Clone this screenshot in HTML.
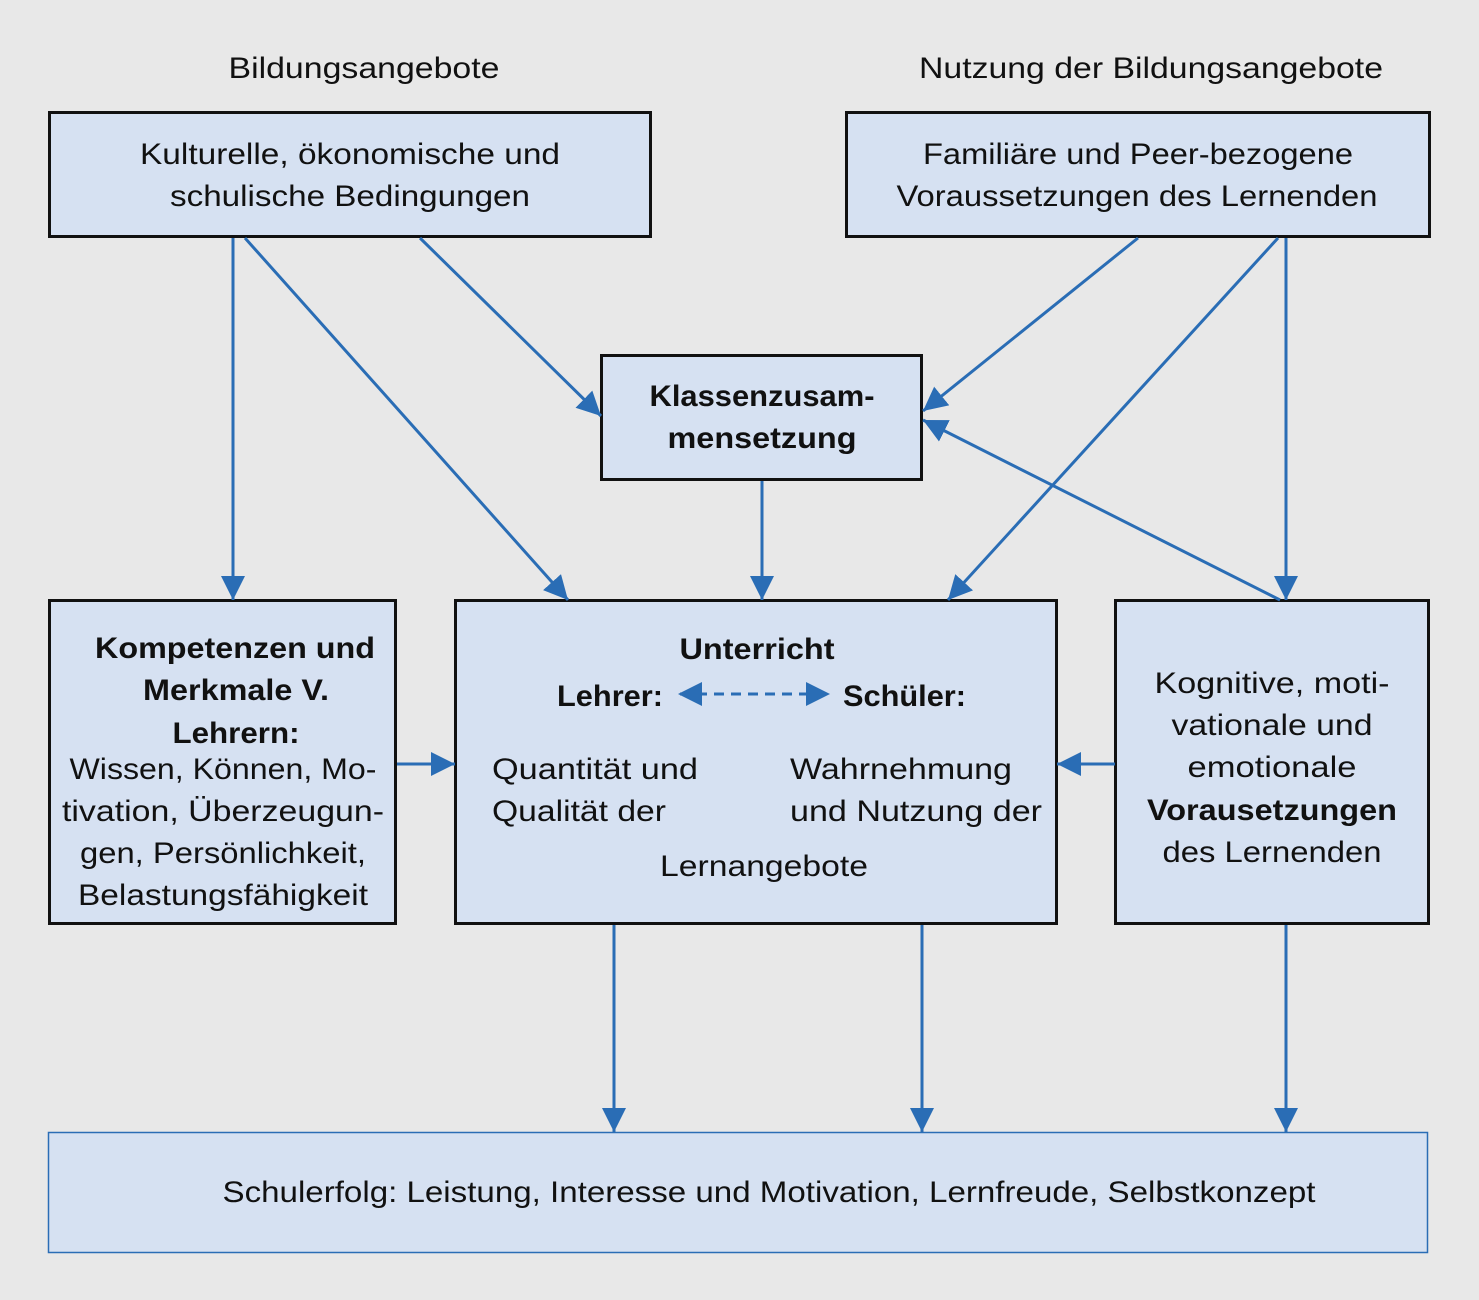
<!DOCTYPE html>
<html><head><meta charset="utf-8"><style>
html,body{margin:0;padding:0;background:#e8e8e8;}
svg{display:block}
text{font-family:"Liberation Sans",sans-serif;font-size:30px;fill:#111;}
.b{font-weight:bold}
</style></head><body>
<svg width="1479" height="1300" viewBox="0 0 1479 1300" xmlns="http://www.w3.org/2000/svg">
<defs>
<marker id="a" markerUnits="userSpaceOnUse" markerWidth="26" markerHeight="26" refX="24" refY="12" orient="auto">
<path d="M0,0 L24,12 L0,24 z" fill="#2a6db5"/></marker>
<marker id="as" markerUnits="userSpaceOnUse" markerWidth="26" markerHeight="26" refX="2" refY="12" orient="auto">
<path d="M24,0 L0,12 L24,24 z" fill="#2a6db5"/></marker>
</defs>
<rect width="1479" height="1300" fill="#e8e8e8"/>
<g fill="#d6e1f2" stroke="#111" stroke-width="3">
<rect x="49.5" y="112.5" width="601" height="124"/>
<rect x="846.5" y="112.5" width="583" height="124"/>
<rect x="601.5" y="355.5" width="320" height="124"/>
<rect x="49.5" y="600.5" width="346" height="323"/>
<rect x="455.5" y="600.5" width="601" height="323"/>
<rect x="1115.5" y="600.5" width="313" height="323"/>
</g>
<rect x="48.5" y="1132.5" width="1379" height="120" fill="#d6e1f2" stroke="#2a6db5" stroke-width="1.5"/>
<g stroke="#2a6db5" stroke-width="3" fill="none" marker-end="url(#a)">
<line x1="233" y1="238" x2="233" y2="600"/>
<line x1="245" y1="238" x2="568" y2="600"/>
<line x1="420" y1="238" x2="601" y2="416"/>
<line x1="1138" y1="238" x2="923" y2="411"/>
<line x1="1278" y1="238" x2="948" y2="600"/>
<line x1="1286" y1="238" x2="1286" y2="600"/>
<line x1="1280" y1="600" x2="923" y2="420"/>
<line x1="762" y1="481" x2="762" y2="600"/>
<line x1="397" y1="764" x2="455" y2="764"/>
<line x1="1115" y1="764" x2="1057" y2="764"/>
<line x1="614" y1="925" x2="614" y2="1132"/>
<line x1="922" y1="925" x2="922" y2="1132"/>
<line x1="1286" y1="925" x2="1286" y2="1132"/>
<line x1="680" y1="694" x2="830" y2="694" stroke-dasharray="10,7" marker-start="url(#as)"/>
</g>
<g text-anchor="middle">
<text x="364" y="78" textLength="271" lengthAdjust="spacingAndGlyphs">Bildungsangebote</text>
<text x="1151" y="78" textLength="464" lengthAdjust="spacingAndGlyphs">Nutzung der Bildungsangebote</text>
<text x="350" y="164" textLength="420" lengthAdjust="spacingAndGlyphs">Kulturelle, ökonomische und</text>
<text x="350" y="206" textLength="360" lengthAdjust="spacingAndGlyphs">schulische Bedingungen</text>
<text x="1138" y="164" textLength="430" lengthAdjust="spacingAndGlyphs">Familiäre und Peer-bezogene</text>
<text x="1137" y="206" textLength="481" lengthAdjust="spacingAndGlyphs">Voraussetzungen des Lernenden</text>
<text class="b" x="762" y="406" textLength="225" lengthAdjust="spacingAndGlyphs">Klassenzusam-</text>
<text class="b" x="762" y="448" textLength="189" lengthAdjust="spacingAndGlyphs">mensetzung</text>
<text class="b" x="235" y="658" textLength="280" lengthAdjust="spacingAndGlyphs">Kompetenzen und</text>
<text class="b" x="236" y="700" textLength="186" lengthAdjust="spacingAndGlyphs">Merkmale V.</text>
<text class="b" x="236" y="743" textLength="127" lengthAdjust="spacingAndGlyphs">Lehrern:</text>
<text x="223" y="779" textLength="307" lengthAdjust="spacingAndGlyphs">Wissen, Können, Mo-</text>
<text x="223" y="821" textLength="322" lengthAdjust="spacingAndGlyphs">tivation, Überzeugun-</text>
<text x="223" y="863" textLength="286" lengthAdjust="spacingAndGlyphs">gen, Persönlichkeit,</text>
<text x="223" y="905" textLength="290" lengthAdjust="spacingAndGlyphs">Belastungsfähigkeit</text>
<text class="b" x="757" y="659" textLength="155" lengthAdjust="spacingAndGlyphs">Unterricht</text>
<text x="764" y="876" textLength="208" lengthAdjust="spacingAndGlyphs">Lernangebote</text>
<text x="1272" y="693" textLength="235" lengthAdjust="spacingAndGlyphs">Kognitive, moti-</text>
<text x="1272" y="735" textLength="201" lengthAdjust="spacingAndGlyphs">vationale und</text>
<text x="1272" y="777" textLength="169" lengthAdjust="spacingAndGlyphs">emotionale</text>
<text class="b" x="1272" y="820" textLength="250" lengthAdjust="spacingAndGlyphs">Vorausetzungen</text>
<text x="1272" y="862" textLength="219" lengthAdjust="spacingAndGlyphs">des Lernenden</text>
<text x="769" y="1202" textLength="1093" lengthAdjust="spacingAndGlyphs">Schulerfolg: Leistung, Interesse und Motivation, Lernfreude, Selbstkonzept</text>
</g>
<g text-anchor="start">
<text class="b" x="557" y="706" textLength="106" lengthAdjust="spacingAndGlyphs">Lehrer:</text>
<text class="b" x="843" y="706" textLength="123" lengthAdjust="spacingAndGlyphs">Schüler:</text>
<text x="492" y="779" textLength="206" lengthAdjust="spacingAndGlyphs">Quantität und</text>
<text x="492" y="821" textLength="174" lengthAdjust="spacingAndGlyphs">Qualität der</text>
<text x="790" y="779" textLength="222" lengthAdjust="spacingAndGlyphs">Wahrnehmung</text>
<text x="790" y="821" textLength="252" lengthAdjust="spacingAndGlyphs">und Nutzung der</text>
</g>
</svg>
</body></html>
